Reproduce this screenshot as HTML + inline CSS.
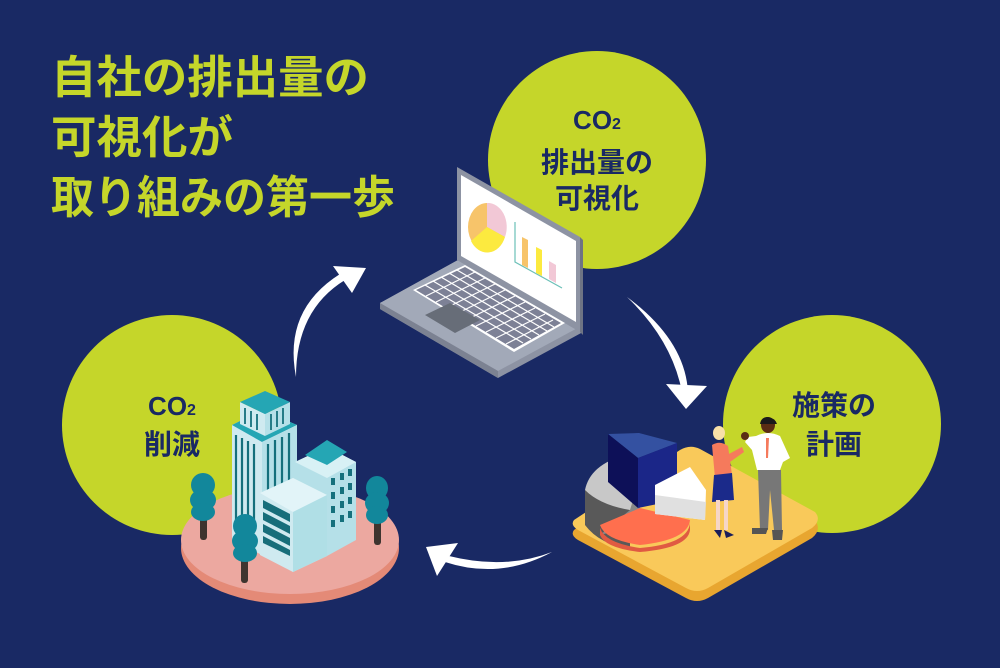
<!DOCTYPE html>
<html><head><meta charset="utf-8"><style>
html,body{margin:0;padding:0;background:#192964;}
svg{display:block}
text{font-family:"Liberation Sans","Noto Sans CJK JP",sans-serif;font-weight:bold}
</style></head><body>
<svg width="1000" height="668" viewBox="0 0 1000 668" xmlns="http://www.w3.org/2000/svg">
<rect width="1000" height="668" fill="#192964"/>
<circle cx="597" cy="160" r="109" fill="#c5d62a"/>
<circle cx="832" cy="424" r="109" fill="#c5d62a"/>
<circle cx="172" cy="425" r="110" fill="#c5d62a"/>

<g fill="#c5d62a" font-size="45">
<text x="51" y="93" textLength="318" lengthAdjust="spacingAndGlyphs">自社の排出量の</text>
<text x="51" y="153" textLength="182" lengthAdjust="spacingAndGlyphs">可視化が</text>
<text x="51" y="213" textLength="344" lengthAdjust="spacingAndGlyphs">取り組みの第一歩</text>
</g>

<g fill="#192964" text-anchor="middle">
<text x="597" y="129" font-size="26">CO<tspan font-size="16">2</tspan></text>
<text x="597" y="172" font-size="28">排出量の</text>
<text x="597" y="208" font-size="28">可視化</text>
<text x="834" y="415" font-size="28">施策の</text>
<text x="834" y="454" font-size="28">計画</text>
<text x="172" y="415" font-size="26">CO<tspan font-size="16">2</tspan></text>
<text x="172" y="454" font-size="28">削減</text>
</g>

<g fill="#fff">
<path d="M296,377 Q296,310 345,280 L340,274 Q283,310 296,377Z"/>
<polygon points="333,266 366,268 352,293"/>
<path d="M627,297 Q685,340 688,392 L682,392 Q672,340 627,297Z"/>
<polygon points="666,384 707,386 686,409"/>
<path d="M552,552 Q500,580 445,562 L449,556 Q505,570 552,552Z"/>
<polygon points="426,547 458,543 437,576"/>
</g>

<!-- laptop -->
<g>
<polygon points="380,303 458,260 583,332 498,378 380,309" fill="#8d93a3"/>
<polygon points="380,303 458,260 583,325 498,371" fill="#a2a9b8"/>
<polygon points="380,303 498,371 498,378 380,309" fill="#7c8292"/>
<polygon points="457,167 580,237 580,332 457,260" fill="#8d93a3"/>
<polygon points="461,175 576,241 576,322 461,256" fill="#ffffff"/>
<polygon points="580,237 583,240 583,335 580,332" fill="#6e7484"/>
<polygon points="413,290 465,265 565,323 514,352" fill="#ffffff"/>
<polygon points="416,290 465,267 561,323 514,349" fill="#7d8196"/>
<g stroke="#fff" stroke-width="1.2">
<line x1="425" y1="285" x2="523" y2="343"/>
<line x1="433" y1="281" x2="531" y2="339"/>
<line x1="441" y1="277" x2="539" y2="335"/>
<line x1="449" y1="273" x2="547" y2="331"/>
<line x1="457" y1="270" x2="554" y2="327"/>
<line x1="426" y1="296" x2="475" y2="272"/><line x1="436" y1="302" x2="485" y2="278"/>
<line x1="446" y1="308" x2="495" y2="284"/><line x1="456" y1="314" x2="505" y2="290"/>
<line x1="466" y1="320" x2="515" y2="296"/><line x1="476" y1="326" x2="525" y2="302"/>
<line x1="486" y1="332" x2="535" y2="308"/><line x1="496" y1="338" x2="545" y2="314"/>
<line x1="506" y1="344" x2="553" y2="320"/>
</g>
<polygon points="425,315 450,303 480,320 455,333" fill="#676d78"/>
<!-- screen pie -->
<ellipse cx="487" cy="227" rx="19" ry="24" fill="#f7c46a"/>
<path d="M487,227 L487,203 A19,24 0 0 1 505,237 Z" fill="#f2c8d6"/>
<path d="M487,227 L505,237 A19,24 0 0 1 471,241 Z" fill="#fcea3f"/>
<polyline points="515,222 515,262 562,288" fill="none" stroke="#6cc0b8" stroke-width="1.2"/>
<polygon points="522,237 528,240 528,268 522,265" fill="#f7c46a"/>
<polygon points="536,247 542,250 542,276 536,273" fill="#fcea3f"/>
<polygon points="549,261 556,265 556,283 549,279" fill="#f2c8d6"/>
</g>

<!-- left platform -->
<ellipse cx="290" cy="548" rx="109" ry="56" fill="#e48a77"/>
<ellipse cx="290" cy="540" rx="109" ry="54" fill="#eca8a0"/>
<!-- tall building lower -->
<polygon points="232,425 262,410 297,425 297,538 262,555 232,540" fill="#cfeaf0"/>
<polygon points="232,425 262,410 297,425 262,442" fill="#25a6b4"/>
<polygon points="262,442 297,425 297,538 262,555" fill="#b5e0e8"/>
<g stroke="#15707c" stroke-width="2.2">
<line x1="236" y1="435" x2="236" y2="520"/><line x1="242" y1="438" x2="242" y2="523"/><line x1="248" y1="441" x2="248" y2="526"/><line x1="254" y1="444" x2="254" y2="529"/>
<line x1="268" y1="444" x2="268" y2="528"/><line x1="275" y1="440" x2="275" y2="524"/><line x1="282" y1="437" x2="282" y2="520"/><line x1="289" y1="433" x2="289" y2="516"/>
</g>
<!-- tall building upper -->
<polygon points="240,402 265,414 265,436 240,424" fill="#cfeaf0"/>
<polygon points="265,414 290,402 290,424 265,436" fill="#b5e0e8"/>
<polygon points="240,402 265,391 290,402 265,414" fill="#25a6b4"/>
<g stroke="#15707c" stroke-width="1.8">
<line x1="245" y1="408" x2="245" y2="424"/><line x1="251" y1="411" x2="251" y2="427"/><line x1="257" y1="414" x2="257" y2="430"/>
<line x1="271" y1="414" x2="271" y2="430"/><line x1="277" y1="411" x2="277" y2="427"/><line x1="283" y1="408" x2="283" y2="424"/>
</g>
<!-- right mid building -->
<polygon points="295,462 327,447 356,462 356,540 327,556 295,540" fill="#b5e0e8"/>
<polygon points="295,462 327,447 356,462 327,478" fill="#d8f1f5"/>
<polygon points="305,455 327,440 347,452 327,465" fill="#25a6b4"/>
<g fill="#15707c">
<rect x="331" y="478" width="4" height="7"/><rect x="340" y="473" width="4" height="7"/><rect x="348" y="469" width="4" height="7"/>
<rect x="331" y="492" width="4" height="7"/><rect x="340" y="487" width="4" height="7"/><rect x="348" y="483" width="4" height="7"/>
<rect x="331" y="506" width="4" height="7"/><rect x="340" y="501" width="4" height="7"/><rect x="348" y="497" width="4" height="7"/>
<rect x="331" y="520" width="4" height="7"/><rect x="340" y="515" width="4" height="7"/><rect x="348" y="511" width="4" height="7"/>
</g>
<polygon points="260,493 293,478 327,495 327,556 293,572 260,555" fill="#cfeaf0"/>
<polygon points="260,493 293,478 327,495 293,512" fill="#e2f4f8"/>
<polygon points="293,512 327,495 327,556 293,572" fill="#b0dfe6"/>
<g fill="#176e7a">
<polygon points="263,500 290,514 290,522 263,508"/>
<polygon points="263,512 290,526 290,534 263,520"/>
<polygon points="263,524 290,538 290,546 263,532"/>
<polygon points="263,536 290,550 290,556 263,543"/>
</g>
<g>
<rect x="200" y="505" width="7" height="35" fill="#3e342f" rx="3"/>
<ellipse cx="203" cy="485" rx="12" ry="12" fill="#12879b"/><ellipse cx="203" cy="500" rx="13" ry="11" fill="#12879b"/><ellipse cx="203" cy="512" rx="12" ry="9" fill="#12879b"/>
<rect x="241" y="550" width="7" height="33" fill="#3e342f" rx="3"/>
<ellipse cx="245" cy="526" rx="12" ry="12" fill="#12879b"/><ellipse cx="245" cy="541" rx="13" ry="11" fill="#12879b"/><ellipse cx="245" cy="553" rx="12" ry="9" fill="#12879b"/>
<rect x="374" y="515" width="7" height="30" fill="#3e342f" rx="3"/>
<ellipse cx="377" cy="488" rx="11" ry="12" fill="#12879b"/><ellipse cx="377" cy="503" rx="12" ry="11" fill="#12879b"/><ellipse cx="377" cy="515" rx="11" ry="9" fill="#12879b"/>
</g>

<!-- right platform -->
<path d="M574,530 L680,458 Q690,452 700,457 L815,520 Q822,530 812,538 L708,598 Q697,604 686,598 L578,540 Q570,535 574,530Z" fill="#e8a630"/>
<path d="M574,520 L680,450 Q690,444 700,449 L815,512 Q822,520 812,528 L708,588 Q697,594 686,588 L578,530 Q570,525 574,520Z" fill="#f9c95a"/>
<path d="M585,490 L585,525 Q600,545 630,548 L630,510Z" fill="#595959"/>
<path d="M585,490 Q590,465 625,455 L640,478 L630,510 Q600,505 585,490Z" fill="#c8c8c8"/>
<polygon points="630,510 640,478 640,525 600,535" fill="#888"/>
<path d="M600,525 L640,508 L690,520 Q688,540 640,545 Q605,540 600,525Z" fill="#ff6f4e"/>
<path d="M600,528 Q605,543 640,548 Q688,544 690,523 L690,530 Q688,548 640,552 Q605,548 600,535Z" fill="#e05a42"/>
<polygon points="608,434 639,433 677,443 638,458" fill="#3451a1"/>
<polygon points="608,434 638,458 638,508 608,482" fill="#0d1058"/>
<polygon points="638,458 677,443 677,500 638,508" fill="#1b2688"/>
<polygon points="655,485 690,467 706,490 705,520 655,514" fill="#ffffff"/>
<polygon points="655,495 706,502 705,520 655,514" fill="#e0e0e0"/>
<ellipse cx="719" cy="433" rx="6" ry="7" fill="#f8e0a8"/>
<path d="M712,445 Q720,440 728,446 L732,475 L715,478 Z" fill="#f57a5c"/>
<path d="M727,455 L742,447 L744,452 L730,462Z" fill="#f57a5c"/>
<path d="M714,475 L732,473 L734,500 L712,502Z" fill="#1b2a8a"/>
<rect x="716" y="500" width="4" height="30" fill="#f6d6c8"/><rect x="724" y="500" width="4" height="30" fill="#f6d6c8"/>
<path d="M714,530 L722,530 L720,538Z M724,530 L734,535 L726,538Z" fill="#1a1e5a"/>
<ellipse cx="768" cy="425" rx="7" ry="8" fill="#5a2d14"/>
<path d="M768,417 Q775,418 777,424 L760,424 Q761,417 768,417Z" fill="#1a1a1a"/>
<path d="M756,436 Q768,430 780,436 L790,458 L783,462 L780,470 L757,470 L752,450 L745,442 L748,437Z" fill="#ffffff"/>
<path d="M766,438 L769,438 L768,458 L766,458Z" fill="#f57a5c"/>
<circle cx="745" cy="436" r="4" fill="#5a2d14"/>
<path d="M758,470 L781,470 L782,530 L774,530 L770,490 L768,530 L760,530Z" fill="#777"/>
<path d="M752,528 L768,528 L766,534 L752,534Z M772,530 L783,530 L782,540 L773,540Z" fill="#555"/>
</svg>
</body></html>
